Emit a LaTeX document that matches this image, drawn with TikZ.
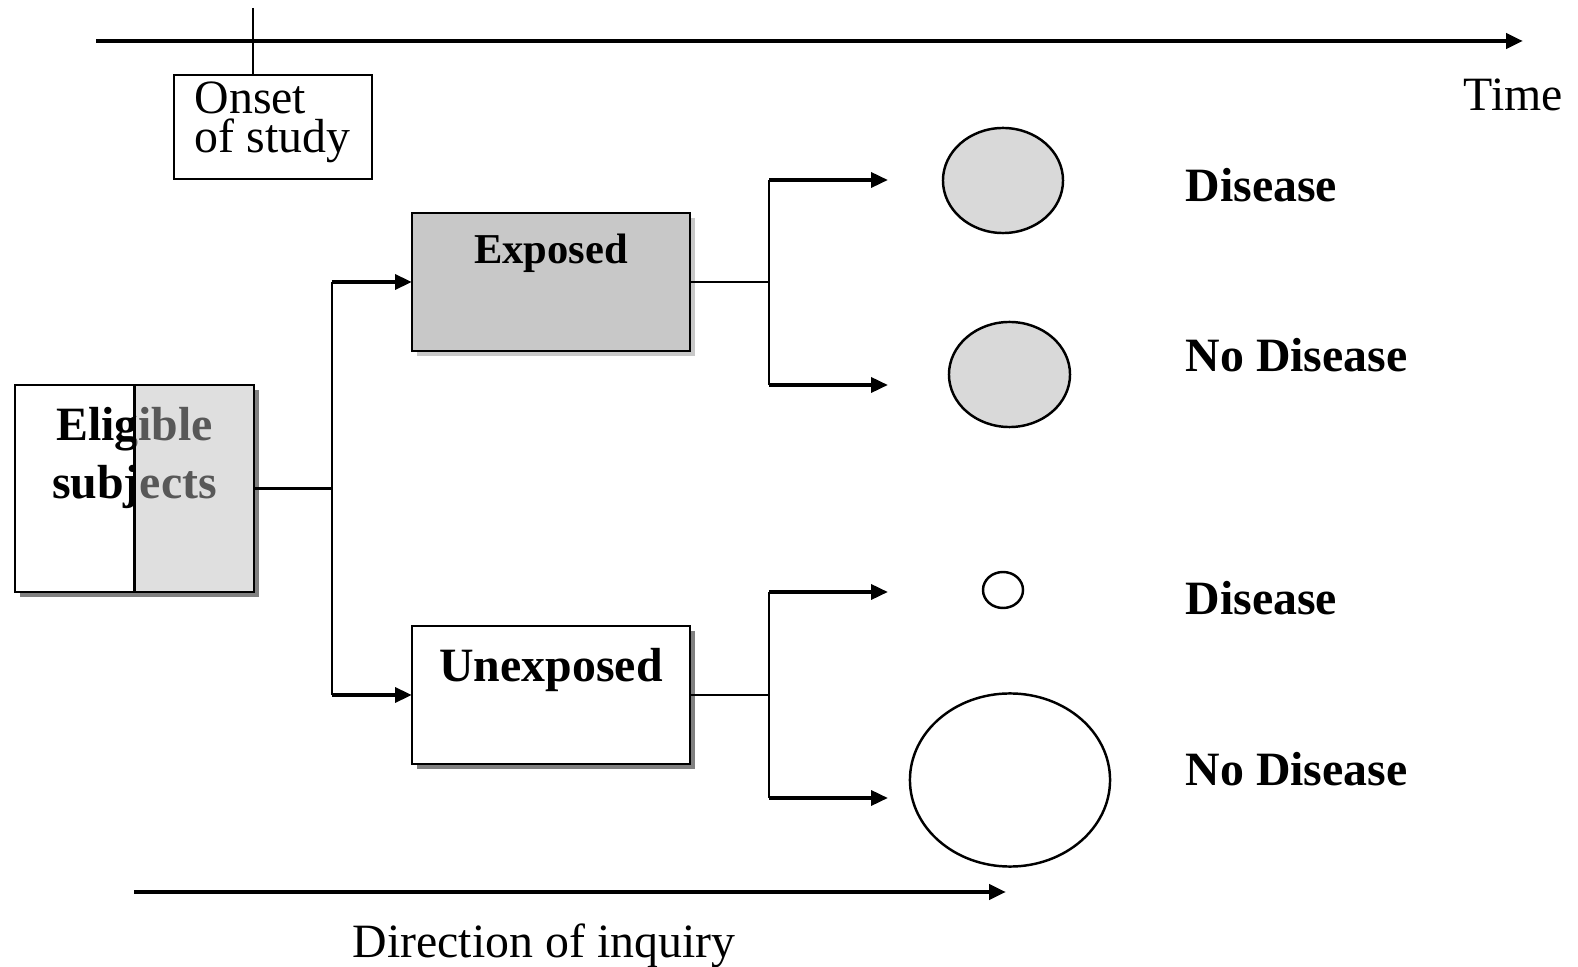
\documentclass[tikz,border=0pt]{standalone}
\usepackage{fontspec}
\setmainfont{Liberation Serif}
\usetikzlibrary{arrows.meta,positioning,shadows,shapes.geometric}

\definecolor{expgray}{HTML}{C8C8C8}
\definecolor{circgray}{HTML}{D9D9D9}
\definecolor{shadowdark}{HTML}{808080}

\begin{document}
\begin{tikzpicture}[
  x=0.01cm, y=-0.01cm,
  font=\fontsize{13.6}{16.5}\selectfont,
  box/.style={
    rectangle, draw, line width=0.7pt,
    inner sep=0pt, outer sep=0pt
  },
  darkshadow/.style={drop shadow={shadow xshift=0.05cm, shadow yshift=-0.05cm, fill=shadowdark, opacity=1}},
  lightshadow/.style={drop shadow={shadow xshift=0.05cm, shadow yshift=-0.05cm, fill=expgray, opacity=1}},
  circ/.style={ellipse, draw, line width=0.7pt, inner sep=0pt, outer sep=0pt},
  boxtext/.style={inner sep=0pt, font=\fontsize{13.6}{16.5}\selectfont\bfseries},
  outcome/.style={anchor=base west, inner sep=0pt, font=\fontsize{13.6}{16.5}\selectfont\bfseries},
  link/.style={line width=0.6pt},
  arrow/.style={-{Triangle[length=4.8pt,width=4.2pt]}, line width=1.1pt},
  axis/.style={-{Triangle[length=4.8pt,width=4.2pt]}, line width=1.2pt}
]
\useasboundingbox (0,0) rectangle (1578,967);

% time axis
\coordinate (tstart) at (96,41);
\coordinate (tend) at (1523,41);
\draw[axis] (tstart) -- (tend);
\node[anchor=base west, inner sep=0pt] (timelbl) at (1463,111) {Time};

% onset of study
\node[box, minimum width=1.98cm, minimum height=1.04cm] (onset) at (273,127) {};
\node[inner sep=0pt, align=left, font=\fontsize{13.6}{11.2}\selectfont,
      below right=0.06cm and 0.2cm of onset.north west] (onsettxt) {Onset\\of study};
\coordinate (ticktop) at (253,8);
\draw[link] (ticktop) -- (ticktop |- onset.north);

% eligible subjects
\node[box, fill=white, darkshadow, minimum width=2.39cm, minimum height=2.07cm] (elig) at (134.5,488.5) {};
\node[boxtext, align=center, below=0.22cm of elig.north] (eligtxt) {Eligible\\subjects};
\fill[black!26, opacity=0.47] (elig.north) rectangle (elig.south east);
\draw[line width=0.7pt] (elig.north) -- (elig.south);
\draw[line width=0.7pt] (elig.north west) rectangle (elig.south east);

% exposure groups
\node[box, fill=expgray, lightshadow, minimum width=2.78cm, minimum height=1.38cm] (exp) at (551,282) {};
\node[boxtext, font=\fontsize{12.1}{14}\selectfont\bfseries, below=0.2cm of exp.north] (exptxt) {Exposed};
\node[box, fill=white, darkshadow, minimum width=2.78cm, minimum height=1.38cm] (unexp) at (551,695) {};
\node[boxtext, below=0.22cm of unexp.north] (unexptxt) {Unexposed};

\coordinate (split) at (332,488.5);
\draw[link] (elig.east) -- (split);
\draw[link] (split |- exp.west) -- (split |- unexp.west);
\draw[arrow] (split |- exp.west) -- (exp.west);
\draw[arrow] (split |- unexp.west) -- (unexp.west);

% outcomes
\node[circ, fill=circgray, minimum width=1.2cm, minimum height=1.05cm] (dis1) at (1003,180.5) {};
\node[circ, fill=circgray, minimum width=1.21cm, minimum height=1.05cm] (nodis1) at (1009.5,374.5) {};
\node[circ, minimum width=0.4cm, minimum height=0.36cm] (dis2) at (1003,590) {};
\node[circ, minimum width=2cm, minimum height=1.73cm] (nodis2) at (1010,780) {};

\node[outcome] (dis1lbl) at (1185,202) {Disease};
\node[outcome] (nodis1lbl) at (1185,372) {No Disease};
\node[outcome] (dis2lbl) at (1185,615) {Disease};
\node[outcome] (nodis2lbl) at (1185,785) {No Disease};

\coordinate (expsplit) at (769,282);
\coordinate (dis1end) at (888,180);
\coordinate (nodis1end) at (888,385);
\draw[link] (exp.east) -- (expsplit);
\draw[link] (expsplit |- dis1end) -- (expsplit |- nodis1end);
\draw[arrow] (expsplit |- dis1end) -- (dis1end);
\draw[arrow] (expsplit |- nodis1end) -- (nodis1end);

\coordinate (unexpsplit) at (769,695);
\coordinate (dis2end) at (888,592);
\coordinate (nodis2end) at (888,798);
\draw[link] (unexp.east) -- (unexpsplit);
\draw[link] (unexpsplit |- dis2end) -- (unexpsplit |- nodis2end);
\draw[arrow] (unexpsplit |- dis2end) -- (dis2end);
\draw[arrow] (unexpsplit |- nodis2end) -- (nodis2end);

% direction of inquiry
\coordinate (dirstart) at (134,892);
\coordinate (dirend) at (1006,892);
\draw[axis] (dirstart) -- (dirend);
\node[anchor=base, inner sep=0pt] (dirlbl) at (544,957) {Direction of inquiry};
\end{tikzpicture}
\end{document}
